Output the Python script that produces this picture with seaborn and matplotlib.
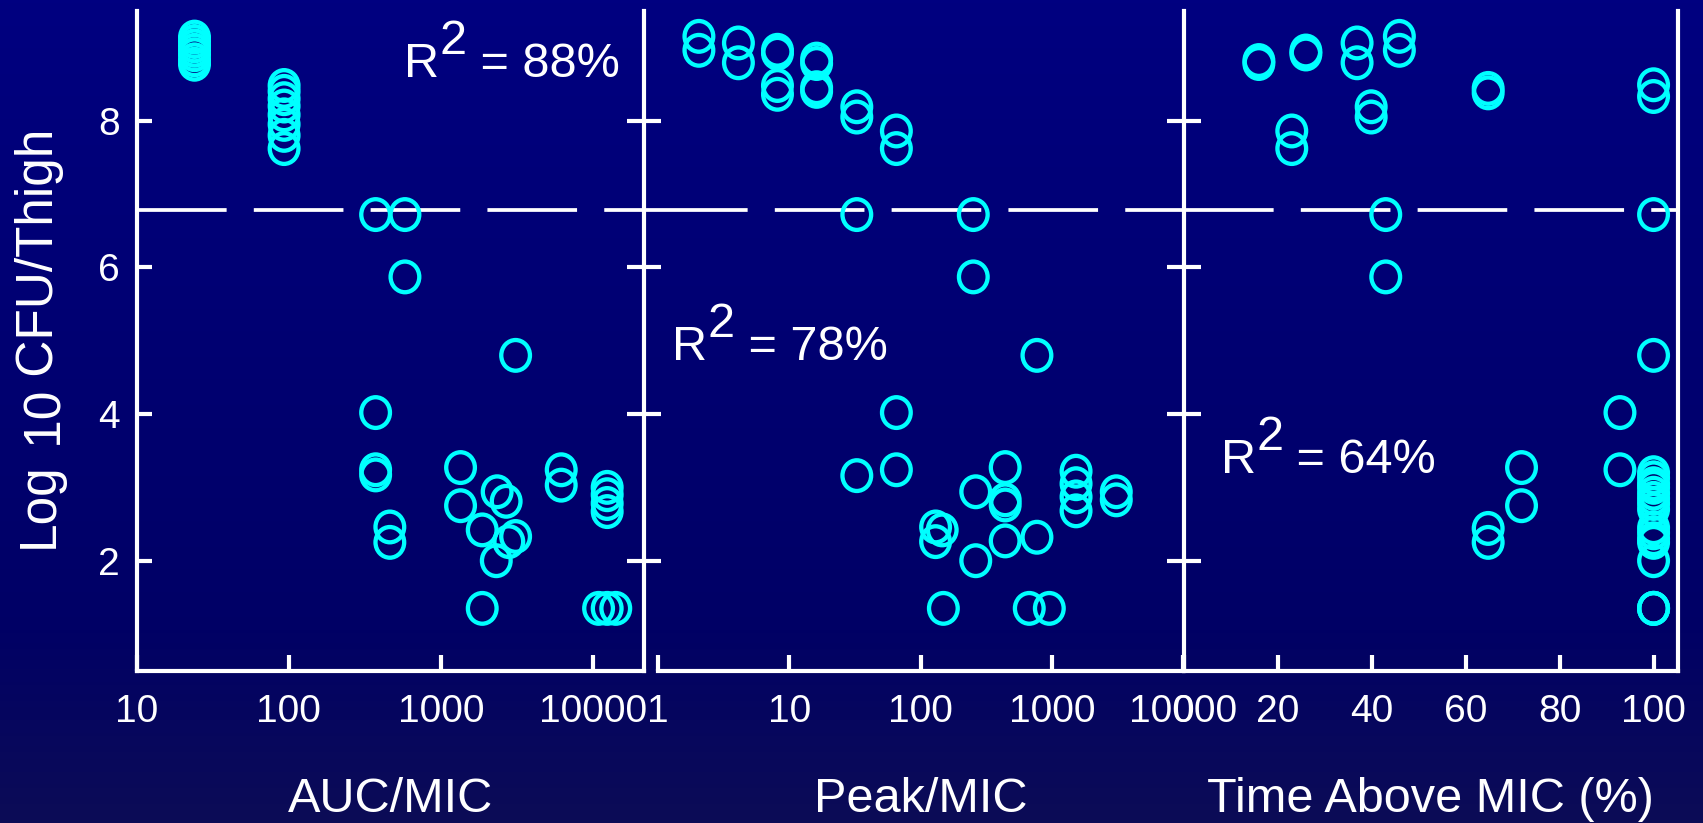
import numpy as np
import pandas as pd
import matplotlib
matplotlib.use("Agg")
import matplotlib.pyplot as plt
import seaborn as sns
from matplotlib.colors import LinearSegmentedColormap
from matplotlib.markers import MarkerStyle
from matplotlib.path import Path
from matplotlib.transforms import Affine2D
from matplotlib.ticker import NullLocator

sns.set_style("ticks")
plt.rcParams["font.family"] = ["Liberation Sans", "DejaVu Sans"]

# ---------------- data: log10 CFU/thigh versus each PK/PD index ----------------
auc_mic = [24, 24, 24, 24, 24, 24, 24,
           93, 93, 93, 93, 93, 93, 93, 93,
           371, 578, 578, 3080, 371, 371, 371, 460, 460,
           1340, 1340, 1860, 1860, 2330, 2670, 2300, 2780, 3080,
           6140, 6140, 12300, 12300, 12300, 12300, 10800, 12300, 14000]
auc_cfu = [9.14, 9.08, 9.02, 8.96, 8.90, 8.83, 8.77,
           8.48, 8.40, 8.30, 8.20, 8.08, 7.95, 7.80, 7.62,
           6.72, 6.72, 5.87, 4.80, 4.02, 3.24, 3.17, 2.46, 2.25,
           3.27, 2.75, 2.42, 1.35, 2.94, 2.81, 2.00, 2.26, 2.33,
           3.24, 3.03, 3.00, 2.90, 2.78, 2.67, 1.35, 1.35, 1.35]

peak_mic = [2.04, 2.04, 4.08, 4.08, 8.1, 8.1, 8.1, 8.1,
            16.1, 16.1, 16.1, 16.1, 32.6, 32.6, 65.3, 65.3,
            32.6, 252, 252, 770, 65.3, 32.6, 65.3,
            441, 263, 441, 441, 441, 770, 263, 130, 146, 130,
            149, 673, 957, 1530, 1530, 1530, 1530, 3100, 3100]
peak_cfu = [9.15, 8.96, 9.06, 8.79, 8.96, 8.92, 8.48, 8.36,
            8.84, 8.78, 8.45, 8.40, 8.19, 8.05, 7.86, 7.62,
            6.72, 6.72, 5.87, 4.80, 4.02, 3.16, 3.24,
            3.27, 2.94, 2.83, 2.76, 2.27, 2.32, 2.00, 2.46, 2.42, 2.26,
            1.35, 1.35, 1.35, 3.22, 3.05, 2.87, 2.68, 2.94, 2.83]

time_above = [16.0, 16.0, 26.0, 26.0, 36.9, 36.9, 45.9, 45.9,
              23.0, 23.0, 39.9, 39.9, 64.8, 64.8, 100, 100,
              43.0, 43.0, 100, 100, 92.85, 92.85, 71.9, 71.9, 64.8, 64.8,
              100, 100, 100, 100, 100, 100, 100, 100, 100, 100, 100, 100, 100,
              100, 100, 100]
time_cfu = [8.82, 8.78, 8.95, 8.91, 9.06, 8.79, 9.15, 8.96,
            7.86, 7.62, 8.19, 8.05, 8.44, 8.38, 8.49, 8.33,
            6.72, 5.87, 6.72, 4.80, 4.02, 3.24, 3.27, 2.75, 2.44, 2.25,
            3.20, 3.13, 3.05, 3.00, 2.92, 2.85, 2.78, 2.70, 2.45, 2.38, 2.30, 2.25, 2.00,
            1.35, 1.35, 1.35]

stasis_cfu = 6.78
r2_values = ["88%", "78%", "64%"]
x_titles = ["AUC/MIC", "Peak/MIC", "Time Above MIC (%)"]
y_ticks = [2, 4, 6, 8]
auc_ticks = [10, 100, 1000, 10000]
peak_ticks = [1, 10, 100, 1000, 10000]
time_ticks = [0, 20, 40, 60, 80, 100]
auc_lim = (10, 21460)
peak_lim = (1, 10000)
time_lim = (0, 105.2)
cfu_lim = (0.5, 9.5)

panels = [
    pd.DataFrame({"index": auc_mic, "cfu": auc_cfu}),
    pd.DataFrame({"index": peak_mic, "cfu": peak_cfu}),
    pd.DataFrame({"index": time_above, "cfu": time_cfu}),
]

# ---------------- figure & background ----------------
W, H, DPI = 1703, 823, 100
fig = plt.figure(figsize=(W / DPI, H / DPI), dpi=DPI)

bg = fig.add_axes([0, 0, 1, 1], zorder=-10)
bg_cmap = LinearSegmentedColormap.from_list(
    "navy", [(0.0, "#000080"), (0.75, "#000066"), (1.0, "#0c0c56")])
bg.imshow(np.linspace(0, 1, 256).reshape(-1, 1), aspect="auto", cmap=bg_cmap,
          extent=[0, 1, 0, 1], origin="upper")
bg.set_axis_off()

TOP, BOTTOM = 10.7, 670.7


def px_box(left, right):
    return [left / W, (H - BOTTOM) / H, (right - left) / W, (BOTTOM - TOP) / H]


ax1 = fig.add_axes(px_box(136.6, 644.0))
ax2 = fig.add_axes(px_box(658.3, 1183.0))
ax3 = fig.add_axes(px_box(1183.7, 1678.0))
axes = [ax1, ax2, ax3]
ax1.set_xscale("log")
ax2.set_xscale("log")

# open, slightly tall rings
ring = MarkerStyle(Path.unit_circle().transformed(Affine2D().scale(0.935, 1.0)))
WHITE = "white"
CYAN = "#00FFFF"
txt = dict(color=WHITE, fontsize=35)
TICK_FS = 28

for ax, df in zip(axes, panels):
    ax.set_facecolor("none")
    sns.scatterplot(data=df, x="index", y="cfu", ax=ax, marker=ring, s=488,
                    facecolor="none", edgecolor=CYAN, linewidth=3.1,
                    zorder=3, legend=False)

ax1.set_xlim(*auc_lim)
ax2.set_xlim(*peak_lim)
ax3.set_xlim(*time_lim)

ax1.set_xticks(auc_ticks, labels=[str(t) for t in auc_ticks])
ax2.set_xticks(peak_ticks, labels=[str(t) for t in peak_ticks])
ax3.set_xticks(time_ticks, labels=[str(t) for t in time_ticks])

for i, ax in enumerate(axes):
    ax.set_ylim(*cfu_lim)
    ax.set_yticks(y_ticks, labels=[str(t) for t in y_ticks])
    ax.xaxis.set_minor_locator(NullLocator())
    ax.yaxis.set_minor_locator(NullLocator())
    for side in ["left", "right", "top", "bottom"]:
        ax.spines[side].set_color(WHITE)
        ax.spines[side].set_linewidth(3)
    ax.spines["top"].set_visible(False)
    ax.spines["right"].set_visible(ax is ax3)
    ax.tick_params(axis="x", which="major", direction="in", length=11.5, width=3,
                   color=WHITE, labelcolor=WHITE, labelsize=TICK_FS, pad=17,
                   bottom=True, top=False)
    ax.set_xlabel(x_titles[i], color=WHITE, fontsize=35)
    ax.xaxis.set_label_coords(0.5, -0.1606)
    ax.set_ylabel("")

ax1.tick_params(axis="y", direction="in", length=11, width=3, color=WHITE,
                labelcolor=WHITE, labelsize=TICK_FS, pad=12, left=True, right=False)
for ax in (ax2, ax3):
    ax.tick_params(axis="y", direction="inout", length=24, width=3, color=WHITE,
                   left=True, right=False, labelleft=False)
ax2.spines["left"].set_position(("outward", 14.3 * 72 / DPI))

# dashed stasis line in each panel
dash = dict(color=WHITE, lw=2.7, ls=(0, (23.9, 7.25)), zorder=2)
ax1.axhline(stasis_cfu, xmin=0, xmax=(658.3 - 136.6) / (644.0 - 136.6),
            clip_on=False, **dash)
ax2.axhline(stasis_cfu, **dash)
ax3.axhline(stasis_cfu, **dash)


def r_squared(ax, xfrac, yfrac, value):
    t_r = ax.text(xfrac, yfrac, "R", transform=ax.transAxes,
                  ha="left", va="baseline", **txt)
    t_2 = ax.annotate("2", xy=(1, 0), xycoords=t_r, xytext=(0, 23.3),
                      textcoords="offset pixels", ha="left", va="bottom", **txt)
    ax.annotate(f" = {value}", xy=(1, 0), xycoords=(t_2, t_r),
                ha="left", va="bottom", **txt)


r_squared(ax1, (404.5 - 136.6) / 507.4, (BOTTOM - 77.3) / 660, r2_values[0])
r_squared(ax2, (672.5 - 658.3) / 524.7, (BOTTOM - 360.0) / 660, r2_values[1])
r_squared(ax3, (1221.0 - 1183.7) / 494.3, (BOTTOM - 473.3) / 660, r2_values[2])

# y-axis title: Log, lowered 10, CFU/Thigh
ylab = dict(color=WHITE, fontsize=37, rotation=90, ha="left", va="bottom")
t_log = fig.text(15 / W, (H - 548) / H, "Log", **ylab)
t_ten = ax1.annotate(" 10", xy=(0, 1), xycoords=t_log, xytext=(9, 0),
                     textcoords="offset pixels", **ylab)
ax1.annotate(" CFU/Thigh", xy=(0, 1), xycoords=(t_log, t_ten), **ylab)

fig.savefig("out.png", dpi=DPI)
